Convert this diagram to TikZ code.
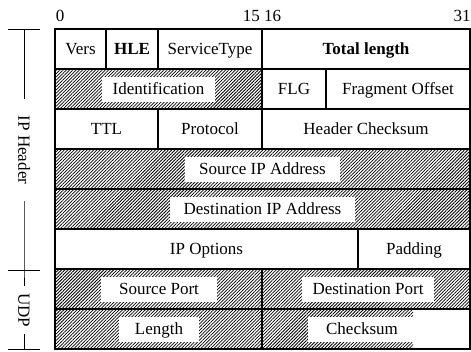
\documentclass[tikz,border=0pt]{standalone}
\usepackage{fontspec}
\setmainfont{Liberation Serif}
\usetikzlibrary{patterns.meta}
\begin{document}
\begin{tikzpicture}[x=1pt,y=-1pt,
  lbl/.style={font=\fontsize{17}{20}\selectfont, inner sep=0pt, text height=11.3pt, text depth=0pt},
  hlbl/.style={lbl, fill=white, inner xsep=11pt, minimum height=25pt},
  hatch/.style={pattern={Lines[angle=45,distance=2.3pt,line width=0.75pt]}, pattern color=black},
  gridl/.style={line width=1.1pt},
  side/.style={line width=1pt},
  sidelbl/.style={font=\fontsize{17}{20}\selectfont, rotate=-90, inner ysep=0pt, text height=11.3pt, text depth=0pt}]
\useasboundingbox (0,0) rectangle (471,351);

% hatched areas
\fill[hatch] (55,69) rectangle (262,109);
\fill[hatch] (55,149) rectangle (470,229);
\fill[hatch] (55,269) rectangle (470,309);
\fill[hatch] (55,309) rectangle (413,349);

% grid
\draw[gridl] (55,29) rectangle (470,349);
\foreach \yy in {69,109,149,189,229,269,309}
  \draw[gridl] (55,\yy) -- (470,\yy);
\draw[gridl] (106,29) -- (106,69);
\draw[gridl] (158,29) -- (158,69);
\draw[gridl] (262,29) -- (262,109);
\draw[gridl] (326,69) -- (326,109);
\draw[gridl] (158,109) -- (158,149);
\draw[gridl] (262,109) -- (262,149);
\draw[gridl] (358,229) -- (358,269);
\draw[gridl] (262,269) -- (262,349);

% bit numbers
\node[lbl] (b0) at (60,16) {0};
\node[lbl] (b15) at (262,16) {15 16};
\node[lbl] (b31) at (462,16) {31};

% row 1
\node[lbl] (vers) at (80.5,49) {Vers};
\node[lbl] (hle) at (132,49) {\textbf{HLE}};
\node[lbl] (tos) at (210,49) {ServiceType};
\node[lbl] (tlen) at (366,49) {\textbf{Total length}};
% row 2
\node[hlbl] (ident) at (158.5,89) {Identification};
\node[lbl] (flg) at (294,89) {FLG};
\node[lbl] (frag) at (398,89) {Fragment Offset};
% row 3
\node[lbl] (ttl) at (106.5,129) {TTL};
\node[lbl] (proto) at (210,129) {Protocol};
\node[lbl] (hcs) at (366,129) {Header Checksum};
% rows 4-5
\node[hlbl, inner xsep=14pt] (srcip) at (262.5,169) {Source IP Address};
\node[hlbl, inner xsep=14pt] (dstip) at (262.5,209) {Destination IP Address};
% row 6
\node[lbl] (opts) at (206.5,249) {IP Options};
\node[lbl] (pad) at (414,249) {Padding};
% UDP
\node[hlbl, inner xsep=18pt] (sport) at (159,289) {Source Port};
\node[hlbl] (dport) at (368,289) {Destination Port};
\node[hlbl, inner xsep=16pt] (ulen) at (159,329) {Length};
\node[hlbl, inner xsep=18pt] (ucs) at (362,329) {Checksum};

% side brackets
\coordinate (c1) at (24,29);
\coordinate (c2) at (24,270);
\coordinate (c3) at (24,349);
\node[sidelbl, inner xsep=17pt] (iph) at (24,150) {IP Header};
\node[sidelbl, inner xsep=7pt] (udp) at (24,310) {UDP};
\draw[side] (8,29) -- (40,29);
\draw[side] (8,270) -- (40,270);
\draw[side] (8,349) -- (40,349);
\draw[side] (c1) -- (iph.west);
\draw[side] (iph.east) -- (c2) -- (udp.west);
\draw[side] (udp.east) -- (c3);
\end{tikzpicture}
\end{document}
